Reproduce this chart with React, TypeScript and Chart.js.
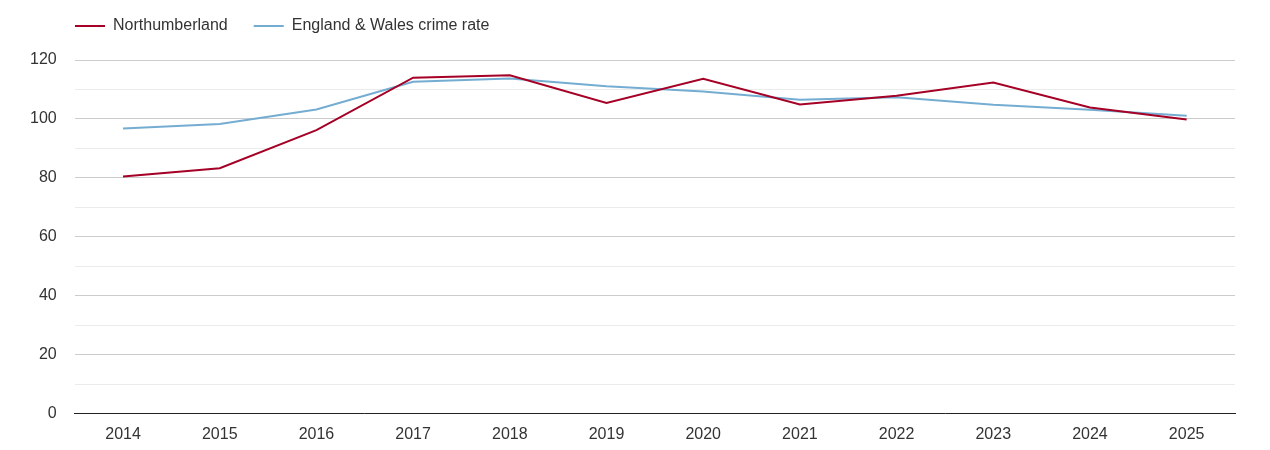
import React, { useEffect, useRef } from "react";
import { Chart, registerables } from "chart.js";

Chart.register(...registerables);

const years = ["2014", "2015", "2016", "2017", "2018", "2019", "2020", "2021", "2022", "2023", "2024", "2025"];
const northumberland = [80.5, 83.3, 96.2, 114.0, 114.8, 105.4, 113.6, 104.9, 107.9, 112.4, 103.9, 99.8];
const englandWales = [96.8, 98.3, 103.2, 112.6, 113.7, 111.1, 109.3, 106.5, 107.4, 104.8, 103.1, 101.1];

const FONT = "'Liberation Sans', Arial, sans-serif";

const legendShift = {
  id: "legendShift",
  afterLayout(chart: any) {
    const lg = chart.legend;
    if (lg) {
      const dx = 37;
      const dy = -16;
      lg.left += dx;
      lg.right += dx;
      lg.top += dy;
      lg.bottom += dy;
    }
  },
};

export default function App() {
  const ref = useRef<HTMLCanvasElement | null>(null);
  useEffect(() => {
    document.body.style.margin = "0";
    if (!ref.current) return;
    const chart = new Chart(ref.current, {
      type: "line",
      data: {
        labels: years,
        datasets: [
          {
            label: "Northumberland",
            data: northumberland,
            borderColor: "#a50026",
            backgroundColor: "#a50026",
            borderWidth: 2,
            pointRadius: 0,
            tension: 0,
          },
          {
            label: "England & Wales crime rate",
            data: englandWales,
            borderColor: "#74add1",
            backgroundColor: "#74add1",
            borderWidth: 2,
            pointRadius: 0,
            tension: 0,
          },
        ],
      },
      options: {
        animation: false,
        responsive: false,
        devicePixelRatio: 1,
        layout: { padding: { left: 12, right: 35, top: 8, bottom: -5 } },
        plugins: {
          legend: {
            display: true,
            position: "top",
            align: "start",
            labels: {
              usePointStyle: true,
              pointStyle: "line",
              pointStyleWidth: 30,
              boxWidth: 30,
              padding: 26,
              color: "#333",
              font: { family: FONT, size: 16 },
            },
          },
          tooltip: { enabled: false },
        },
        scales: {
          x: {
            offset: true,
            grid: { display: false, drawTicks: false },
            border: { display: true, color: "#222", width: 1 },
            ticks: { color: "#333", font: { family: FONT, size: 16 }, padding: 11 },
          },
          y: {
            min: 0,
            max: 120,
            ticks: {
              stepSize: 10,
              color: "#333",
              font: { family: FONT, size: 16 },
              padding: 18,
              callback: (v: any) => (Number(v) % 20 === 0 ? String(v) : ""),
            },
            grid: {
              drawTicks: false,
              color: (ctx: any) => (ctx.tick && ctx.tick.value % 20 === 0 ? "#cccccc" : "#ebebeb"),
              lineWidth: 1,
            },
            border: { display: false },
          },
        },
      },
      plugins: [legendShift],
    });
    return () => chart.destroy();
  }, []);
  return (
    <div style={{ width: 1270, height: 450 }}>
      <canvas ref={ref} width={1270} height={450} style={{ width: 1270, height: 450, display: "block" }} />
    </div>
  );
}
